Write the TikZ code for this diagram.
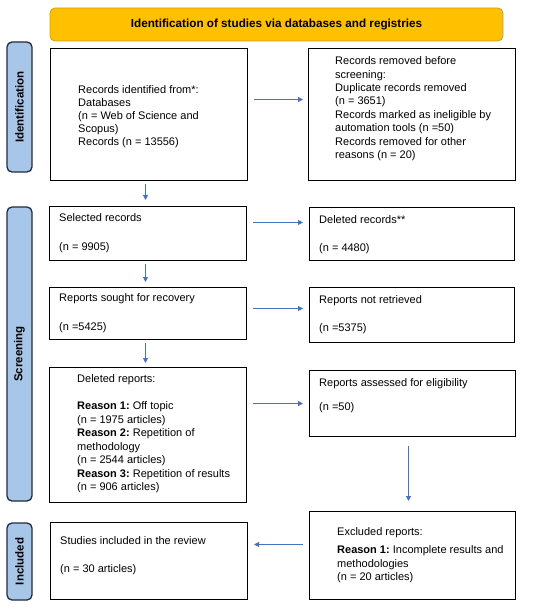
\documentclass[tikz,border=0pt]{standalone}
\usepackage{fontspec}
\setmainfont{Liberation Sans}
\usetikzlibrary{arrows.meta}
\definecolor{bannerfill}{HTML}{FFC000}
\definecolor{bannerdraw}{HTML}{C9A227}
\definecolor{sidefill}{HTML}{A8C6E8}
\definecolor{sidedraw}{HTML}{1F2D3D}
\definecolor{arrowblue}{HTML}{4472C4}
\tikzset{
  box/.style={draw=black, line width=1pt, anchor=north west, inner sep=0pt},
  txt/.style={anchor=north west, inner sep=0pt, align=left, font=\fontsize{11}{13.4}\selectfont},
  sidebox/.style={draw=sidedraw, fill=sidefill, line width=1.3pt, rounded corners=5pt, rotate=90, minimum height=25pt, inner sep=0pt, font=\fontsize{11.5}{13}\selectfont\bfseries},
  banner/.style={draw=bannerdraw, fill=bannerfill, line width=0.8pt, rounded corners=5pt, minimum width=453pt, minimum height=33pt, inner sep=0pt, font=\fontsize{11.7}{14}\selectfont\bfseries},
  arr/.style={draw=arrowblue, line width=1pt, -{Triangle[length=5pt,width=5pt]}}
}
\begin{document}
\begin{tikzpicture}[x=1pt,y=-1pt]
\useasboundingbox[fill=white] (0,0) rectangle (550,609);

% banner
\node[banner] (ban) at (276.5,24.5) {Identification of studies via databases and registries};

% side labels
\node[sidebox, minimum width=130pt] (s1) at (19.5,107) {Identification};
\node[sidebox, minimum width=294pt] (s2) at (19.5,354) {Screening};
\node[sidebox, minimum width=77pt] (s3) at (19.5,561.5) {Included};

% boxes
\node[box, minimum width=197pt, minimum height=132pt] (b1) at (50,48) {};
\node[box, minimum width=207pt, minimum height=132pt] (b2) at (308,48) {};
\node[box, minimum width=197pt, minimum height=54pt] (b3) at (49,206) {};
\node[box, minimum width=205pt, minimum height=53pt] (b4) at (309,207) {};
\node[box, minimum width=197pt, minimum height=52pt] (b5) at (49,287) {};
\node[box, minimum width=205pt, minimum height=55pt] (b6) at (309,287) {};
\node[box, minimum width=197pt, minimum height=135pt] (b7) at (49,367) {};
\node[box, minimum width=206pt, minimum height=66pt] (b8) at (309,370) {};
\node[box, minimum width=197pt, minimum height=77pt] (b9) at (50,522) {};
\node[box, minimum width=206pt, minimum height=88pt] (b10) at (309,511) {};

% texts
\node[txt, font=\fontsize{11}{13.1}\selectfont] (t1) at (78,85) {Records identified from*:\\Databases\\(n = Web of Science and\\Scopus)\\Records (n = 13556)};
\node[txt] (t2) at (335,56.5) {Records removed before\\screening:\\Duplicate records removed\\(n = 3651)\\Records marked as ineligible by\\automation tools (n =50)\\Records removed for other\\reasons (n = 20)};
\node[txt] (t3) at (59,213.5) {Selected records\\[15.6pt](n = 9905)};
\node[txt] (t4) at (319,215.5) {Deleted records**\\[14.6pt](n = 4480)};
\node[txt] (t5) at (59,293.5) {Reports sought for recovery\\[15.6pt](n =5425)};
\node[txt] (t6) at (319,295.5) {Reports not retrieved\\[14.6pt](n =5375)};
\node[txt, font=\fontsize{11}{13.5}\selectfont] (t7) at (77,374.5) {Deleted reports:\\[13.5pt]\textbf{Reason 1:}~Off topic\\(n = 1975 articles)\\\textbf{Reason 2:}~Repetition of\\methodology\\(n = 2544 articles)\\\textbf{Reason 3:}~Repetition of results\\(n = 906 articles)};
\node[txt] (t8) at (319,378.5) {Reports assessed for eligibility\\[10.6pt](n =50)};
\node[txt] (t9) at (60,536.5) {Studies included in the review\\[14.6pt](n = 30 articles)};
\node[txt, font=\fontsize{11}{13.5}\selectfont] (t10) at (337,527.5) {Excluded reports:\\[4.5pt]\textbf{Reason 1:}~Incomplete results and\\methodologies\\(n = 20 articles)};

% horizontal arrows
\draw[arr, shorten <=6pt, shorten >=5pt] ([yshift=15pt]b1.east) -- ([yshift=15pt]b1.east -| b2.west);
\draw[arr, shorten <=6pt, shorten >=6pt] ([yshift=11pt]b3.east) -- ([yshift=11pt]b3.east -| b4.west);
\draw[arr, shorten <=6pt, shorten >=6pt] ([yshift=5pt]b5.east) -- ([yshift=5pt]b5.east -| b6.west);
\draw[arr, shorten <=6pt, shorten >=6pt] ([yshift=31.5pt]b7.east) -- ([yshift=31.5pt]b7.east -| b8.west);
\draw[arr, shorten <=6pt, shorten >=6pt] ([yshift=11pt]b10.west) -- ([yshift=11pt]b10.west -| b9.east);

% vertical arrows
\draw[arr, shorten <=3pt, shorten >=6pt] ([xshift=-3.5pt]b1.south) -- ([xshift=-3.5pt]b1.south |- b3.north);
\draw[arr, shorten <=3pt, shorten >=5pt] ([xshift=-2.5pt]b3.south) -- ([xshift=-2.5pt]b3.south |- b5.north);
\draw[arr, shorten <=3pt, shorten >=4pt] ([xshift=-2.5pt]b5.south) -- ([xshift=-2.5pt]b5.south |- b7.north);
\draw[arr, shorten <=9pt, shorten >=10pt] ([xshift=-4pt]b8.south) -- ([xshift=-4pt]b8.south |- b10.north);
\end{tikzpicture}
\end{document}
